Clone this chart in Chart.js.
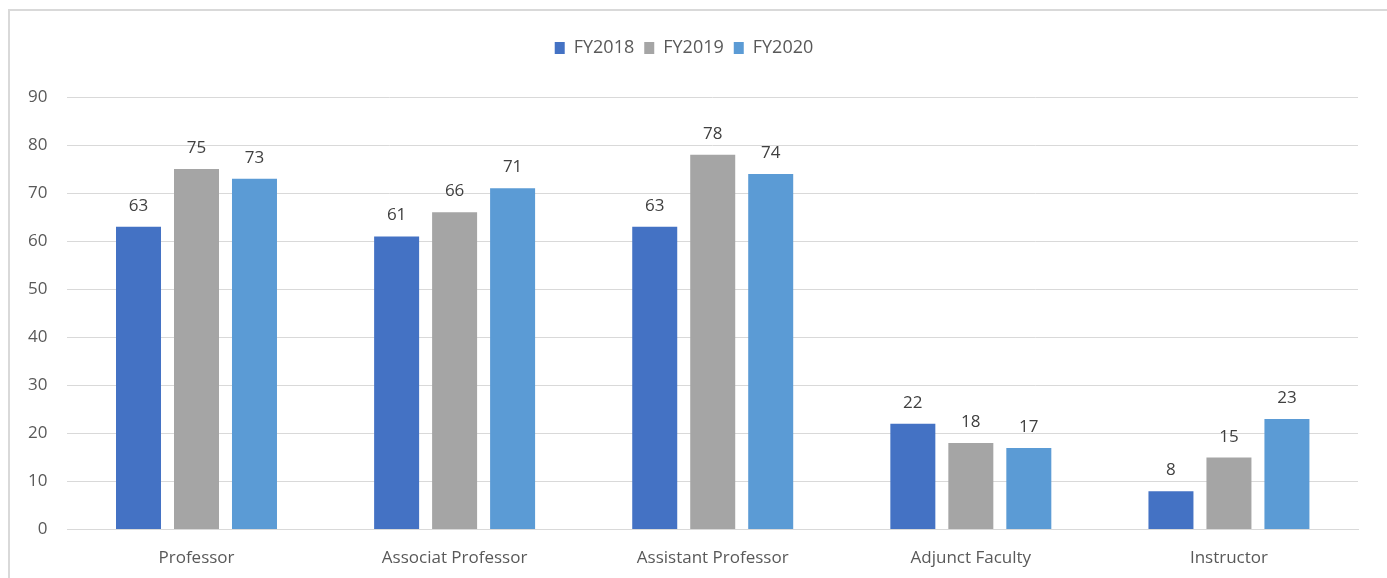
<!DOCTYPE html>
<html>
<head>
<meta charset="utf-8">
<script src="https://cdn.jsdelivr.net/npm/chart.js@4/dist/chart.umd.min.js"></script>
<style>
  html, body { margin: 0; padding: 0; background: #fff; overflow: hidden; }
  #frame { position: absolute; left: 8px; top: 9px; width: 1379px; height: 569px;
           border-left: 2px solid #d9d9d9; border-top: 2px solid #d9d9d9; box-sizing: border-box; }
  #wrap { position: absolute; left: 0; top: 0; width: 1377px; height: 567px; }
</style>
</head>
<body>
<div id="frame"><div id="wrap"><canvas id="faculty"></canvas></div></div>
<script>
// categories and values
var categories = ['Professor', 'Associat Professor', 'Assistant Professor', 'Adjunct Faculty', 'Instructor'];
var fy2018 = [63, 61, 63, 22, 8];
var fy2019 = [75, 66, 78, 18, 15];
var fy2020 = [73, 71, 74, 17, 23];
var yTicks = [0, 10, 20, 30, 40, 50, 60, 70, 80, 90];

var fontFamily = "'Open Sans', sans-serif";

// draws the value above every bar
var valueLabels = {
    id: 'valueLabels',
    afterDatasetsDraw: function (chart) {
        var ctx = chart.ctx;
        ctx.save();
        ctx.fillStyle = '#404040';
        ctx.font = '17px ' + fontFamily;
        ctx.textAlign = 'center';
        ctx.textBaseline = 'alphabetic';
        chart.data.datasets.forEach(function (ds, i) {
            chart.getDatasetMeta(i).data.forEach(function (bar, j) {
                ctx.fillText(ds.data[j], bar.x, bar.y - 16);
            });
        });
        ctx.restore();
    }
};

// extra room under the legend
var legendGap = {
    id: 'legendGap',
    beforeLayout: function (chart) {
        var legend = chart.legend;
        if (legend && !legend._gapPatched) {
            var fit = legend.fit;
            legend.fit = function () {
                fit.call(this);
                this.height += 30;
            };
            legend._gapPatched = true;
        }
    }
};

var ctx = document.getElementById('faculty').getContext('2d');
var facultyChart = new Chart(ctx, {
    type: 'bar',
    data: {
        labels: categories,
        datasets: [
            { label: 'FY2018', data: fy2018, backgroundColor: '#4472c4' },
            { label: 'FY2019', data: fy2019, backgroundColor: '#a5a5a5' },
            { label: 'FY2020', data: fy2020, backgroundColor: '#5b9bd5' }
        ]
    },
    options: {
        responsive: true,
        maintainAspectRatio: false,
        animation: false,
        categoryPercentage: 0.674,
        barPercentage: 0.776,
        layout: { padding: { left: 0, right: 29, top: 18, bottom: 0 } },
        plugins: {
            tooltip: { enabled: false },
            legend: {
                position: 'top',
                labels: {
                    boxWidth: 10, boxHeight: 12, padding: 10,
                    color: '#595959',
                    font: { family: fontFamily, size: 18 }
                }
            }
        },
        scales: {
            x: {
                grid: { display: false },
                border: { display: true, color: '#d9d9d9', width: 1 },
                ticks: { color: '#595959', font: { family: fontFamily, size: 17 }, padding: 10 }
            },
            y: {
                min: 0, max: 90,
                afterBuildTicks: function (axis) {
                    axis.ticks = yTicks.map(function (v) { return { value: v }; });
                },
                afterFit: function (axis) { axis.width -= 2; },
                grid: { color: '#d9d9d9', drawTicks: false },
                border: { display: false },
                ticks: { color: '#595959', font: { family: fontFamily, size: 17 }, padding: 20 }
            }
        }
    },
    plugins: [valueLabels, legendGap]
});
</script>
</body>
</html>
